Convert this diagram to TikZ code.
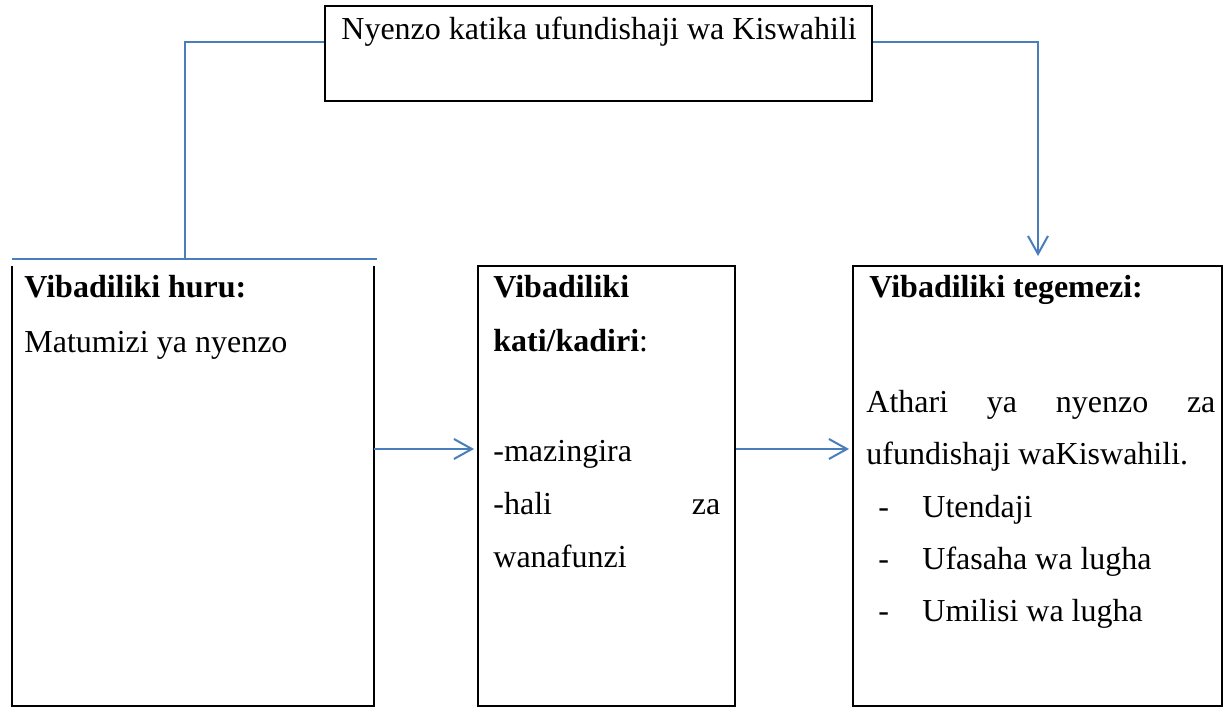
\documentclass[tikz,border=0pt]{standalone}
\usepackage{fontspec}
\setmainfont{Liberation Serif}
\usetikzlibrary{arrows.meta}
\definecolor{linkblue}{HTML}{4A7EBB}
\begin{document}
\begin{tikzpicture}[x=0.5pt,y=-0.5pt,
  boxframe/.style={draw=black,line width=1pt,inner sep=0pt,minimum height=220pt},
  hidframe/.style={draw=none,inner sep=0pt,minimum height=220pt},
  conn/.style={draw=linkblue,line width=1pt},
  arr/.style={conn,-{Straight Barb[length=9pt,width=10pt,line width=1pt]}},
  txt/.style={anchor=base west,inner sep=0pt,font=\fontsize{16pt}{19pt}\selectfont},
  txte/.style={anchor=base east,inner sep=0pt,font=\fontsize{16pt}{19pt}\selectfont}]
\useasboundingbox[fill=white] (0,0) rectangle (1228,710);

% boxes
\node[draw=black,line width=1pt,inner sep=0pt,minimum width=273.5pt,minimum height=47.5pt] (top) at (598.5,53.5) {};
\node[hidframe,minimum width=181pt] (L) at (193,486) {};
\draw[line width=1pt] (L.north west) -- (L.south west) -- (L.south east) -- (L.north east);
\node[boxframe,minimum width=128.5pt] (M) at (606.5,486) {};
\node[boxframe,minimum width=184.5pt] (R) at (1037.5,486) {};

% texts
\node[txt] (t0) at (341,40) {Nyenzo katika ufundishaji wa Kiswahili};

\node[txt] (l1) at (24,298) {\bfseries Vibadiliki huru:};
\node[txt] (l2) at (24,353) {Matumizi ya nyenzo};

\node[txt] (m1) at (493,298) {\bfseries Vibadiliki};
\node[txt] (m2) at (493,352) {\textbf{kati/kadiri}:};
\node[txt] (m3) at (493,462) {-mazingira};
\node[txt] (m4) at (493,515) {\makebox[113.5pt][s]{-hali za}};
\node[txt] (m5) at (493,568) {wanafunzi};

\node[txt] (r1) at (869,298) {\bfseries Vibadiliki tegemezi:};
\node[txt] (r2) at (866,413) {\makebox[174.5pt][s]{Athari ya nyenzo za}};
\node[txt] (r3) at (866,465) {ufundishaji waKiswahili.};
\node[txt] (d1) at (878,518) {-};
\node[txt] (u1) at (922,518) {Utendaji};
\node[txt] (d2) at (878,570) {-};
\node[txt] (u2) at (922,570) {Ufasaha wa lugha};
\node[txt] (d3) at (878,622) {-};
\node[txt] (u3) at (922,622) {Umilisi wa lugha};

% connectors
\coordinate (jl) at (185,42);
\coordinate (hbL) at (12,259);
\coordinate (hbR) at (377,259);
\draw[conn] (top.west |- jl) -- (jl) -- (jl |- hbL);
\draw[conn] (hbL) -- (hbR);

\coordinate (jr) at (1038,42);
\coordinate (rtip) at (1038,256);
\draw[arr] (top.east |- jr) -- (jr) -- (rtip);

\coordinate (ay) at (0,449);
\draw[arr,shorten >=1.5pt] (L.east |- ay) -- (M.west |- ay);
\draw[arr,shorten >=1.5pt] (M.east |- ay) -- (R.west |- ay);
\end{tikzpicture}
\end{document}
